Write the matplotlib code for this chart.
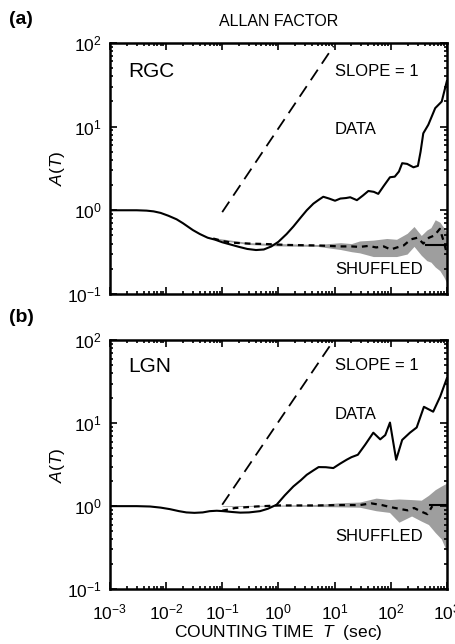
import numpy as np
import matplotlib
matplotlib.use("Agg")
import matplotlib.pyplot as plt
from matplotlib.ticker import LogLocator, FuncFormatter, NullFormatter

plt.rcParams["font.family"] = ["Liberation Sans", "DejaVu Sans"]
plt.rcParams["mathtext.fontset"] = "custom"
plt.rcParams["mathtext.rm"] = "Liberation Sans"
plt.rcParams["mathtext.it"] = "Liberation Sans:italic"

# ---- panel (a) RGC ----
rgc_T = [1e-3, 2e-3, 3e-3, 4.5e-3, 6e-3, 8e-3, 0.011, 0.0154, 0.02, 0.03, 0.04, 0.055, 0.075, 0.1,
         0.14, 0.2, 0.28, 0.4, 0.55, 0.75, 1.0, 1.4, 1.85, 2.5, 3.2, 4.2, 5.2,
         6.3, 8, 10.2, 12.7, 16, 19, 25, 32, 40, 50, 60, 75, 97, 118, 140, 160, 196, 254, 305,
         340, 380, 467, 620, 810, 1000]
rgc_A = [1.0, 1.0, 1.0, 0.99, 0.97, 0.93, 0.86, 0.78, 0.70, 0.58, 0.52, 0.47, 0.445, 0.415,
         0.39, 0.365, 0.345, 0.335, 0.34, 0.37, 0.42, 0.52, 0.64, 0.82, 1.0, 1.2, 1.33,
         1.45, 1.38, 1.30, 1.38, 1.40, 1.43, 1.32, 1.50, 1.70, 1.66, 1.57, 1.95, 2.48, 2.52, 2.9, 3.65, 3.58, 3.26, 3.39,
         5.0, 8.3, 10.5, 16.6, 19.9, 35]
rgc_shuf_T = [0.069, 0.1, 0.15, 0.3, 0.6, 1.5, 5, 12.7, 20, 28, 40, 55, 75, 100, 130, 170, 230, 300, 380]
rgc_shuf_A = [0.46, 0.43, 0.41, 0.40, 0.395, 0.385, 0.38, 0.37, 0.37, 0.365, 0.375, 0.36, 0.37, 0.34, 0.36, 0.38, 0.45, 0.47, 0.40]
rgc_tail_T = [380, 480, 600, 750, 900, 1000]
rgc_tail_A = [0.40, 0.47, 0.50, 0.60, 0.40, 0.30]
rgc_mean_T = [420, 1000]
rgc_mean_A = [0.385, 0.385]
rgc_band_T = [0.07, 0.3, 1, 5, 12.7, 20, 28, 49, 85, 127, 196, 260, 350, 440, 520, 620, 750, 880, 1000]
rgc_band_lo = [0.45, 0.39, 0.375, 0.37, 0.34, 0.32, 0.31, 0.28, 0.28, 0.28, 0.30, 0.37, 0.29, 0.25, 0.24, 0.21, 0.19, 0.16, 0.135]
rgc_band_hi = [0.47, 0.41, 0.40, 0.39, 0.41, 0.40, 0.43, 0.44, 0.46, 0.45, 0.53, 0.64, 0.50, 0.58, 0.62, 0.77, 0.72, 0.62, 0.53]

# ---- panel (b) LGN ----
lgn_T = [1e-3, 3e-3, 5.2e-3, 8e-3, 0.0117, 0.017, 0.023, 0.032, 0.045, 0.06, 0.08, 0.105, 0.15, 0.21,
         0.3, 0.47, 0.65, 0.93, 1.3, 1.85, 2.5, 3.2, 4.2, 5.2, 7, 9.5,
         12.5, 16.4, 20, 26, 35, 49, 65, 80, 97, 125, 160, 220, 290, 390, 570, 760, 1000]
lgn_A = [1.0, 1.0, 0.99, 0.96, 0.92, 0.87, 0.84, 0.83, 0.84, 0.87, 0.88, 0.87, 0.85, 0.835,
         0.84, 0.87, 0.93, 1.04, 1.35, 1.73, 2.05, 2.39, 2.7, 2.96, 2.95, 2.88,
         3.25, 3.63, 3.9, 4.17, 5.5, 7.7, 6.4, 7.2, 10.2, 3.63, 6.3, 7.7, 8.9, 15.8, 13.8, 21, 35]
lgn_shuf_T = [0.1, 0.17, 0.4, 1, 5, 12.7, 28, 45, 70, 95, 140, 200, 260, 350]
lgn_shuf_A = [0.88, 0.95, 0.99, 1.02, 1.02, 1.03, 1.03, 1.08, 1.03, 0.98, 0.93, 0.89, 0.95, 0.86]
lgn_tail_T = [350, 450, 550]
lgn_tail_A = [0.86, 0.80, 1.0]
lgn_mean_T = [500, 1000]
lgn_mean_A = [1.04, 1.04]
lgn_band_T = [0.1, 1, 5, 12.7, 28, 55, 95, 140, 235, 350, 470, 620, 800, 1000]
lgn_band_lo = [0.99, 1.0, 0.99, 0.98, 0.97, 0.88, 0.84, 0.64, 0.76, 0.66, 0.60, 0.48, 0.40, 0.28]
lgn_band_hi = [1.01, 1.03, 1.05, 1.10, 1.12, 1.25, 1.20, 1.22, 1.20, 1.18, 1.35, 1.58, 1.75, 1.90]

slope_T = [0.1, 9.6]
slope_k = [9.5, 10.4]


def sci(v, pos):
    e = int(round(np.log10(v)))
    return r"$\mathregular{10^{%d}}$" % e


def style(ax, show_x):
    ax.set_xscale("log")
    ax.set_yscale("log")
    ax.set_xlim(1e-3, 1e3)
    ax.set_ylim(0.1, 100)
    ax.xaxis.set_major_locator(LogLocator(base=10, numticks=10))
    ax.xaxis.set_minor_locator(LogLocator(base=10, subs=np.arange(2, 10), numticks=20))
    ax.yaxis.set_major_locator(LogLocator(base=10, numticks=10))
    ax.yaxis.set_minor_locator(LogLocator(base=10, subs=np.arange(2, 10), numticks=20))
    ax.tick_params(which="both", direction="in", top=True, right=True, width=1.2)
    ax.tick_params(which="major", length=5, labelsize=12.5)
    ax.tick_params(which="minor", length=2.5)
    ax.tick_params(axis="y", pad=6)
    ax.tick_params(axis="x", pad=10)
    ax.yaxis.set_major_formatter(FuncFormatter(sci))
    ax.yaxis.set_minor_formatter(NullFormatter())
    if show_x:
        ax.xaxis.set_major_formatter(FuncFormatter(sci))
    else:
        ax.xaxis.set_major_formatter(NullFormatter())
    ax.xaxis.set_minor_formatter(NullFormatter())
    for s in ax.spines.values():
        s.set_linewidth(1.8)
    ax.set_ylabel(r"$\mathit{A(T)}$", fontsize=12.5, labelpad=0)


fig = plt.figure(figsize=(4.56, 6.44), dpi=100)
ax1 = fig.add_axes([0.241, 0.5435, 0.739, 0.390])
ax2 = fig.add_axes([0.241, 0.0854, 0.739, 0.386])

panels = [
    (ax1, rgc_T, rgc_A, rgc_shuf_T, rgc_shuf_A, rgc_tail_T, rgc_tail_A, rgc_mean_T, rgc_mean_A,
     rgc_band_T, rgc_band_lo, rgc_band_hi, "RGC", slope_k[0], (0.885, 0.885, 0.653, 0.096)),
    (ax2, lgn_T, lgn_A, lgn_shuf_T, lgn_shuf_A, lgn_tail_T, lgn_tail_A, lgn_mean_T, lgn_mean_A,
     lgn_band_T, lgn_band_lo, lgn_band_hi, "LGN", slope_k[1], (0.894, 0.898, 0.701, 0.21)),
]

for i, (ax, T, A, sT, sA, tT, tA, mT, mA, bT, blo, bhi, name, k, ys) in enumerate(panels):
    ax.fill_between(bT, blo, bhi, color="0.62", lw=0, zorder=1)
    ax.plot(T, A, color="black", lw=1.5, zorder=3)
    ax.plot(sT + tT[1:], sA + tA[1:], color="black", lw=1.6, dashes=(2.6, 2.2), zorder=2)
    ax.plot(mT, mA, color="black", lw=1.5, zorder=2)
    ax.plot(slope_T, [k * t for t in slope_T], color="black", lw=1.3, dashes=(7, 4), zorder=2)
    style(ax, show_x=(i == 1))
    ax.text(0.053, ys[0], name, transform=ax.transAxes, fontsize=15, va="center", ha="left")
    ax.text(0.668, ys[1], "SLOPE = 1", transform=ax.transAxes, fontsize=12, va="center", ha="left")
    ax.text(0.668, ys[2], "DATA", transform=ax.transAxes, fontsize=12, va="center", ha="left")
    ax.text(0.668, ys[3], "SHUFFLED", transform=ax.transAxes, fontsize=12, va="center", ha="left")

fig.text(0.61, 1 - 22 / 644, "ALLAN FACTOR", fontsize=11.5, ha="center", va="center")
fig.text(0.02, 1 - 20 / 644, "(a)", fontsize=14, fontweight="bold", ha="left", va="center")
fig.text(0.02, 1 - 318 / 644, "(b)", fontsize=14, fontweight="bold", ha="left", va="center")
fig.text(0.61, 1 - 632 / 644, r"COUNTING TIME  $\mathit{T}$  (sec)", fontsize=12.5, ha="center", va="center")

fig.savefig("out.png", dpi=100)
